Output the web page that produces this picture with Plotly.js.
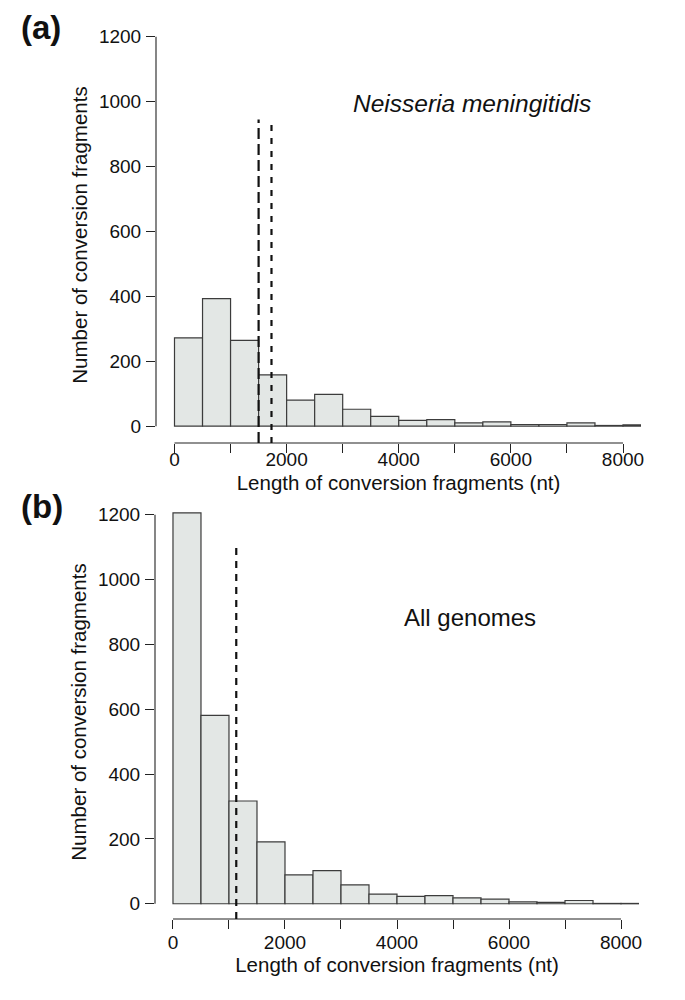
<!DOCTYPE html>
<html>
<head>
<meta charset="utf-8">
<script src="https://cdn.plot.ly/plotly-3.0.1.min.js"></script>
<style>html,body{margin:0;padding:0;background:#fff;}#chart{width:685px;height:1000px;}</style>
</head>
<body>
<div id="chart"></div>
<script>
// ---- data ----
var binStart = [0, 500, 1000, 1500, 2000, 2500, 3000, 3500, 4000, 4500, 5000, 5500, 6000, 6500, 7000, 7500, 8000];
var binWidth = 500;
var countsNeisseria = [272, 393, 264, 158, 80, 98, 52, 30, 18, 20, 10, 13, 5, 5, 10, 2, 4];
var countsAll = [1206, 581, 317, 191, 89, 102, 58, 30, 23, 25, 18, 14, 6, 4, 10, 1, 1];
var linesNeisseria = [1500, 1730];
var linesAll = [1130];
var xTickVals = [0, 1000, 2000, 3000, 4000, 5000, 6000, 7000, 8000];
var xTickText = ['0', '', '2000', '', '4000', '', '6000', '', '8000'];
var yTickVals = [0, 200, 400, 600, 800, 1000, 1200];
var yTickText = ['0', '200', '400', '600', '800', '1000', '1200'];
var panelLabels = ['(a)', '(b)'];
var panelTitles = ['Neisseria meningitidis', 'All genomes'];
var xTitle = 'Length of conversion fragments (nt)';
var yTitle = 'Number of conversion fragments';

// ---- layout helpers (pixel -> paper) ----
var W = 685, H = 1000;
function px(x) { return x / W; }
function py(y) { return 1 - y / H; }

var FONT = '"Liberation Sans", Arial, Helvetica, sans-serif';
var barFill = '#e3e7e5';
var barLine = '#3c3c3c';

var topX = [156, 641], topY = [27, 443];
var botX = [155, 639], botY = [505, 919];

function barTrace(counts, xa, ya) {
  return {
    type: 'bar', x: binStart, y: counts, offset: 0, width: binWidth,
    xaxis: xa, yaxis: ya,
    marker: {color: barFill, line: {color: barLine, width: 1.2}},
    hoverinfo: 'x+y', showlegend: false
  };
}

var data = [barTrace(countsNeisseria, 'x', 'y'), barTrace(countsAll, 'x2', 'y2')];

function xAxis(domain, range, anchor, labelShift, titleStandoff) {
  return {
    domain: [px(domain[0]), px(domain[1])], range: range, anchor: anchor,
    showline: false, showgrid: false, zeroline: false,
    ticks: 'outside', ticklen: 9, tickwidth: 1, tickcolor: '#222',
    tickvals: xTickVals, ticktext: xTickText,
    tickfont: {family: FONT, size: 19, color: '#111'},
    ticklabelstandoff: labelShift,
    title: {text: xTitle, font: {family: FONT, size: 20.5, color: '#111'}, standoff: titleStandoff},
    automargin: false, fixedrange: true
  };
}
function yAxis(domain, range, anchor) {
  return {
    domain: [py(domain[1]), py(domain[0])], range: range, anchor: anchor,
    showline: false, showgrid: false, zeroline: false,
    ticks: 'outside', ticklen: 9, tickwidth: 1, tickcolor: '#222',
    tickvals: yTickVals, ticktext: yTickText,
    tickfont: {family: FONT, size: 19, color: '#111'},
    ticklabelstandoff: 1,
    title: {text: yTitle, font: {family: FONT, size: 20.5, color: '#111'}, standoff: 5},
    automargin: false, fixedrange: true
  };
}

var shapes = [];
// axis lines (R style: only across the tick range)
function axisLines(xa, ya, xdom, ydom) {
  shapes.push({type: 'line', xref: xa, yref: 'paper',
    x0: xTickVals[0], x1: xTickVals[xTickVals.length - 1],
    y0: py(ydom[1]), y1: py(ydom[1]), line: {color: '#222', width: 1.1}});
  shapes.push({type: 'line', xref: 'paper', yref: ya,
    x0: px(xdom[0]), x1: px(xdom[0]),
    y0: yTickVals[0], y1: yTickVals[yTickVals.length - 1], line: {color: '#222', width: 1.1}});
}
axisLines('x', 'y', topX, topY);
axisLines('x2', 'y2', botX, botY);

// reference dashed lines
var yTopRange = [-52, 1230], yBotRange = [-47, 1230];
shapes.push({type: 'line', xref: 'x', yref: 'y', x0: linesNeisseria[0], x1: linesNeisseria[0],
  y0: yTopRange[0], y1: 945, line: {color: '#111', width: 2.2, dash: '11px,5px'}});
shapes.push({type: 'line', xref: 'x', yref: 'y', x0: linesNeisseria[1], x1: linesNeisseria[1],
  y0: yTopRange[0], y1: 935, line: {color: '#111', width: 2.2, dash: '6px,7px'}});
shapes.push({type: 'line', xref: 'x2', yref: 'y2', x0: linesAll[0], x1: linesAll[0],
  y0: yBotRange[0], y1: 1100, line: {color: '#111', width: 2.2, dash: '7px,6px'}});

var annotations = [
  {text: '<b>' + panelLabels[0] + '</b>', xref: 'paper', yref: 'paper', x: px(19), y: py(27),
   xanchor: 'left', yanchor: 'middle', showarrow: false, font: {family: FONT, size: 33, color: '#111'}},
  {text: '<b>' + panelLabels[1] + '</b>', xref: 'paper', yref: 'paper', x: px(19), y: py(506),
   xanchor: 'left', yanchor: 'middle', showarrow: false, font: {family: FONT, size: 33, color: '#111'}},
  {text: '<i>' + panelTitles[0] + '</i>', xref: 'x', yref: 'y', x: 5300, y: 994,
   xanchor: 'center', yanchor: 'middle', showarrow: false, font: {family: FONT, size: 24.5, color: '#111'}},
  {text: panelTitles[1], xref: 'x2', yref: 'y2', x: 5300, y: 884,
   xanchor: 'center', yanchor: 'middle', showarrow: false, font: {family: FONT, size: 24, color: '#111'}}
];

var layout = {
  width: W, height: H,
  margin: {l: 0, r: 0, t: 0, b: 0, pad: 0},
  paper_bgcolor: '#fff', plot_bgcolor: '#fff',
  font: {family: FONT, color: '#111'},
  bargap: 0,
  xaxis: xAxis(topX, [-330, 8321], 'y', -10, 6),
  yaxis: yAxis(topY, yTopRange, 'x'),
  xaxis2: xAxis(botX, [-321, 8321], 'y2', -3, 4),
  yaxis2: yAxis(botY, yBotRange, 'x2'),
  shapes: shapes,
  annotations: annotations,
  showlegend: false
};

Plotly.newPlot('chart', data, layout, {displayModeBar: false, staticPlot: true});
</script>
</body>
</html>
